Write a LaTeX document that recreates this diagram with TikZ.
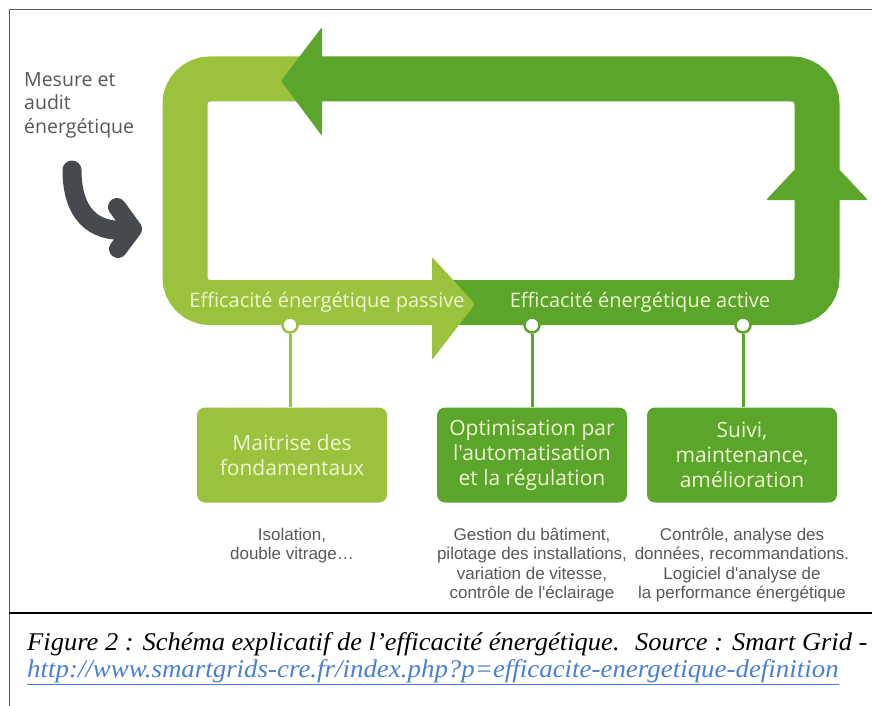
\documentclass[tikz,border=0pt]{standalone}
\usepackage{fontspec}
\usetikzlibrary{positioning}
\newfontfamily\diagfont{Open Sans}
\newfontfamily\descfont{Liberation Sans}
\newfontfamily\legendfont{Liberation Serif}
\definecolor{vertclair}{HTML}{9BC23C}
\definecolor{vertfonce}{HTML}{5BA52B}
\definecolor{texteclair}{HTML}{EEF6D2}
\definecolor{gristexte}{HTML}{585858}
\definecolor{flechegris}{HTML}{46494E}
\definecolor{lien}{HTML}{4A7FD4}
\begin{document}
\begin{tikzpicture}[
	x=1pt, y=-1pt,
	band/.style = {line width=45pt, rounded corners=25pt},
	head/.style = {rounded corners=2pt},
	pin/.style = {draw, circle, fill=white, line width=2.5pt, minimum size=15pt, inner sep=0pt},
	box/.style = {rounded corners=8pt, minimum width=190pt, minimum height=95pt, align=center,
		text=texteclair, font=\diagfont\fontsize{21}{25}\selectfont},
	desc/.style = {align=center, inner sep=0pt, text=gristexte, font=\descfont\fontsize{17}{19.5}\selectfont},
	bandtext/.style = {text=texteclair, font=\diagfont\fontsize{20}{22}\selectfont},
	legend/.style = {anchor=base west, inner sep=0pt, font=\legendfont\itshape\fontsize{25.5}{28}\selectfont},
	]
	\useasboundingbox (0,0) rectangle (872,706);
	\fill[white] (0,0) rectangle (872,706);
	% cadre
	\draw[gray!70!black, line width=1pt] (872,10) -- (9,10) -- (9,706);
	\draw[black, line width=2pt] (9,613) -- (872,613);

	% boucle
	\draw[band, vertclair] (310,79) -- (185,79) -- (185,302.5) -- (435,302.5);
	\draw[band, vertfonce] (432,302.5) -- (817,302.5) -- (817,79) -- (310,79);
	\fill[head, vertfonce] (281,81) -- (322,27) -- (322,136) -- cycle;
	\fill[head, vertfonce] (817,146) -- (868,200) -- (766,200) -- cycle;
	\fill[head, vertclair] (475,304) -- (432,360) -- (432,257) -- cycle;
	\node[bandtext] (passive) at (327,302) {Efficacité énergétique passive};
	\node[bandtext] (active) at (640,302) {Efficacité énergétique active};

	% mesure et audit
	\node[anchor=north west, inner sep=0pt, align=left, text=gristexte,
		font=\diagfont\fontsize{19.5}{23.5}\selectfont] (mesure) at (24,72) {Mesure et\\audit\\énergétique};
	\coordinate (depart) at (72,170);
	\coordinate (entree) at (133,229);
	\draw[flechegris, line width=19pt, line cap=round] (depart) .. controls (72,212) and (92,233) .. (127,230);
	\draw[flechegris, line width=18pt, line cap=round, line join=round] (117,207) -- (entree) -- (118,249);

	% les trois volets
	\node[box, fill=vertclair] (maitrise) at (292,455) {Maitrise des\\fondamentaux};
	\node[box, fill=vertfonce] (optim) at (532,455) {Optimisation par\\l'automatisation\\et la régulation};
	\node[box, fill=vertfonce] (suivi) at (742,455) {Suivi,\\maintenance,\\amélioration};
	\node[pin, draw=vertclair] (p1) at (290,325) {};
	\node[pin, draw=vertfonce] (p2) at (532,325) {};
	\node[pin, draw=vertfonce] (p3) at (743,325) {};
	\draw[vertclair, line width=3pt] (p1) -- (p1 |- maitrise.north);
	\draw[vertfonce, line width=3pt] (p2) -- (p2 |- optim.north);
	\draw[vertfonce, line width=3pt] (p3) -- (p3 |- suivi.north);

	\node[desc, below=25pt of maitrise] (d1) {Isolation,\\double vitrage…};
	\node[desc, below=25pt of optim] (d2) {Gestion du bâtiment,\\pilotage des installations,\\variation de vitesse,\\contrôle de l'éclairage};
	\node[desc, below=25pt of suivi] (d3) {Contrôle, analyse des\\données, recommandations.\\Logiciel d'analyse de\\la performance énergétique};

	% legende
	\node[legend] (legende) at (27,650)
		{\scalebox{1.04}[1]{Figure 2 : Schéma explicatif de l’efficacité énergétique.~ Source : Smart Grid -}};
	\node[legend, text=lien] (url) at (27,677)
		{\scalebox{1.055}[1]{\underline{http://www.smartgrids-cre.fr/index.php?p=efficacite-energetique-definition}}};
\end{tikzpicture}
\end{document}
